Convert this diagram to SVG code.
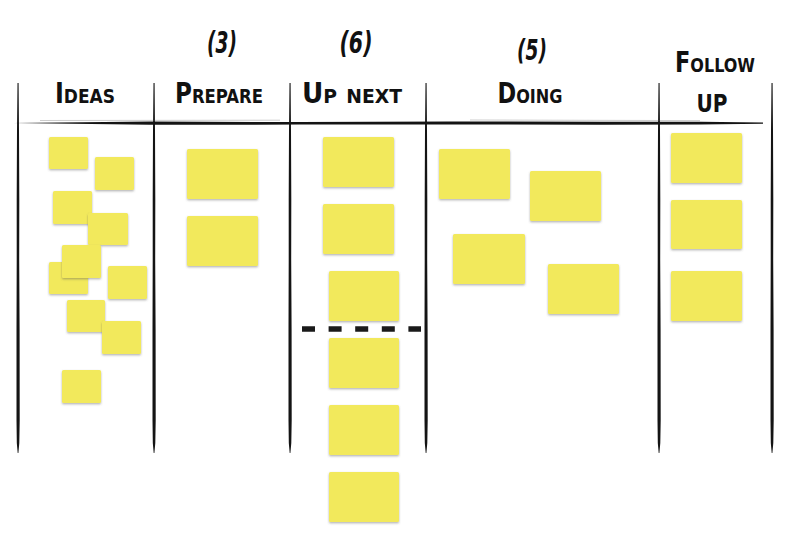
<svg xmlns="http://www.w3.org/2000/svg" xmlns:xlink="http://www.w3.org/1999/xlink" width="794" height="551" viewBox="0 0 794 551">
<style>
.note{fill:#f2e95c;filter:url(#sh)}
.hd{font-family:"DejaVu Sans Condensed","DejaVu Sans","Liberation Sans",sans-serif;font-weight:bold;font-variant:small-caps;fill:#111;text-anchor:middle}
.num{font-family:"DejaVu Sans Condensed","DejaVu Sans",sans-serif;font-weight:bold;fill:#111;text-anchor:middle;font-style:italic}
.ink{fill:#141414}
</style>
<defs>
<filter id="sh" x="-10%" y="-10%" width="120%" height="130%">
<feDropShadow dx="0" dy="1.2" stdDeviation="0.8" flood-color="#555" flood-opacity="0.45"/>
</filter>
<path id="vl" d="M-0.5,83 L0.6,83 L1,130 L1.3,200 L1.2,260 L1.6,330 L1.7,420 L1.3,443 L0.4,453 L-0.3,453 L-1.2,443 L-1.5,420 L-1.5,330 L-1.3,260 L-1.3,200 L-1,130 Z"/>
</defs>
<rect width="794" height="551" fill="#fff"/>
<g id="grid">
<use xlink:href="#vl" x="18" class="ink"/>
<use xlink:href="#vl" x="154" class="ink"/>
<use xlink:href="#vl" x="290" class="ink"/>
<use xlink:href="#vl" x="426" class="ink"/>
<use xlink:href="#vl" x="659" class="ink"/>
<use xlink:href="#vl" x="772" class="ink"/>
<path class="ink" d="M13,123 L150,121.6 L300,122 L450,121.4 L600,121.8 L700,121.8 L763,122.6 L763,123.8 L700,124.6 L600,124.8 L450,124.4 L300,124.6 L150,124.8 Z"/>
<path d="M40,120.5 L280,120.2 M470,120 L700,120.6" stroke="#555" stroke-width="0.5" fill="none" opacity="0.6"/>
<line x1="302" y1="329" x2="421" y2="329" stroke="#1a1a1a" stroke-width="5.5" stroke-dasharray="13 13.6"/>
</g>
<g id="headers">
<text class="num" x="222" y="53" font-size="31" textLength="30" lengthAdjust="spacingAndGlyphs">(3)</text>
<text class="num" x="356" y="53" font-size="31" textLength="33" lengthAdjust="spacingAndGlyphs">(6)</text>
<text class="num" x="532" y="60" font-size="29" textLength="30" lengthAdjust="spacingAndGlyphs">(5)</text>
<text class="hd" x="85" y="103" font-size="28" textLength="60" lengthAdjust="spacingAndGlyphs">Ideas</text>
<text class="hd" x="219" y="103" font-size="28" textLength="88" lengthAdjust="spacingAndGlyphs">Prepare</text>
<text class="hd" x="352" y="103" font-size="28" textLength="100" lengthAdjust="spacingAndGlyphs">Up next</text>
<text class="hd" x="530" y="103" font-size="28" textLength="65" lengthAdjust="spacingAndGlyphs">Doing</text>
<text class="hd" x="715" y="72" font-size="28" textLength="80" lengthAdjust="spacingAndGlyphs">Follow</text>
<text class="hd" x="712" y="112" font-size="34" textLength="31" lengthAdjust="spacingAndGlyphs">up</text>
</g>
<g id="ideas">
<rect id="idea1" class="note" x="49" y="137" width="39" height="32" rx="1.5"/>
<rect id="idea2" class="note" x="95" y="157" width="39" height="33" rx="1.5"/>
<rect id="idea3" class="note" x="53" y="191" width="39" height="33" rx="1.5"/>
<rect id="idea4" class="note" x="88" y="213" width="40" height="32" rx="1.5"/>
<rect id="idea5" class="note" x="49" y="262" width="39" height="32" rx="1.5"/>
<rect id="idea6" class="note" x="62" y="245" width="39" height="33" rx="1.5"/>
<rect id="idea7" class="note" x="108" y="266" width="39" height="33" rx="1.5"/>
<rect id="idea8" class="note" x="67" y="300" width="38" height="32" rx="1.5"/>
<rect id="idea9" class="note" x="102" y="321" width="39" height="33" rx="1.5"/>
<rect id="idea10" class="note" x="62" y="370" width="39" height="33" rx="1.5"/>
</g>
<g id="prepare">
<rect id="prep1" class="note" x="187" y="149" width="71" height="50" rx="1.5"/>
<rect id="prep2" class="note" x="187" y="216" width="71" height="50" rx="1.5"/>
</g>
<g id="upnext">
<rect id="up1" class="note" x="323" y="137" width="71" height="50" rx="1.5"/>
<rect id="up2" class="note" x="323" y="204" width="71" height="50" rx="1.5"/>
<rect id="up3" class="note" x="329" y="271" width="70" height="50" rx="1.5"/>
<rect id="up4" class="note" x="329" y="338" width="70" height="50" rx="1.5"/>
<rect id="up5" class="note" x="329" y="405" width="70" height="50" rx="1.5"/>
<rect id="up6" class="note" x="329" y="472" width="70" height="50" rx="1.5"/>
</g>
<g id="doing">
<rect id="do1" class="note" x="439" y="149" width="71" height="50" rx="1.5"/>
<rect id="do2" class="note" x="530" y="171" width="71" height="50" rx="1.5"/>
<rect id="do3" class="note" x="453" y="234" width="72" height="50" rx="1.5"/>
<rect id="do4" class="note" x="548" y="264" width="71" height="50" rx="1.5"/>
</g>
<g id="followup">
<rect id="fu1" class="note" x="671" y="133" width="71" height="50" rx="1.5"/>
<rect id="fu2" class="note" x="671" y="200" width="71" height="49" rx="1.5"/>
<rect id="fu3" class="note" x="671" y="271" width="71" height="50" rx="1.5"/>
</g>
</svg>
